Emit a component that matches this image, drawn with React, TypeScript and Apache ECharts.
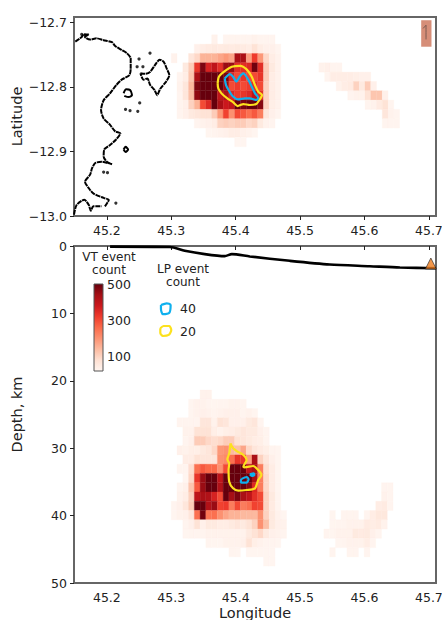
import React, { useEffect, useRef } from "react";
import * as echarts from "echarts";

const lonTicks = [45.2, 45.3, 45.4, 45.5, 45.6, 45.7];
const latTicks = [-13.0, -12.9, -12.8, -12.7];
const depthTicks = [0, 10, 20, 30, 40, 50];
const barTicks = [100, 200, 300, 400, 500];
const barLabels = [100, 300, 500];

// VT event counts, rows north to south, columns west to east
const mapRows: number[][] = [
  [0,0,0,0,0,0,0,25,0,20,20,20,20,20,25,20,20,20,0,0],
  [0,0,0,0,30,40,45,50,45,50,45,50,45,40,70,40,30,30,20,0],
  [25,0,0,60,90,150,150,150,170,190,170,430,430,180,320,190,90,40,25,0],
  [0,0,50,110,330,480,360,400,340,450,450,340,340,350,490,340,110,50,25,0],
  [0,20,40,120,430,500,500,500,500,480,350,300,330,300,300,330,110,40,25,0],
  [0,25,60,140,480,500,500,500,500,450,300,320,300,320,340,300,100,40,25,0],
  [0,20,60,130,460,500,500,500,400,430,350,320,330,350,400,340,100,40,25,0],
  [0,20,30,100,150,300,350,500,430,380,400,500,480,500,500,470,100,35,25,0],
  [0,20,30,50,60,70,70,110,190,310,200,300,280,250,280,230,60,30,20,0],
  [0,0,0,0,20,25,30,40,100,110,100,110,110,90,100,50,25,20,0,0],
  [0,0,0,0,0,0,15,20,25,30,40,40,30,25,15,0,0,0,0,0],
  [0,0,0,0,0,0,0,0,0,0,0,15,15,0,0,0,0,0,0,0],
];
const mapEastRows: number[][] = [
  [25,30,20,20,0,0,0,0,0,0,0,0,0,0],
  [0,20,40,40,40,40,35,30,30,0,0,0,0,0],
  [0,0,0,25,40,45,100,50,110,30,0,0,0,0],
  [0,0,0,0,0,20,25,25,70,120,120,30,0,0],
  [0,0,0,0,0,0,0,0,20,25,45,70,20,0],
  [0,0,0,0,0,0,0,0,0,0,0,60,25,20],
  [0,0,0,0,0,0,0,0,0,0,0,20,20,20],
];
const sectionRows: number[][] = [
  [0,0,0,0,0,25,25,0,0,0,0,0,0,0,0,0,0,0,0,0],
  [0,0,0,15,25,25,20,15,20,20,25,25,20,0,0,0,0,0,0,0],
  [0,0,0,15,25,30,25,20,25,30,30,30,20,25,15,0,0,0,0,0],
  [0,20,20,20,20,60,60,25,70,60,30,30,30,50,60,20,0,0,0,0],
  [0,0,25,25,70,70,70,35,25,35,40,50,60,50,50,30,20,0,0,0],
  [0,0,20,30,110,110,90,80,90,110,110,70,60,50,40,35,20,0,0,0],
  [0,30,25,35,35,50,60,90,190,200,140,130,170,90,60,45,35,20,15,0],
  [0,0,40,40,70,60,60,60,200,210,250,330,330,180,430,100,60,30,15,0],
  [0,20,20,80,250,280,260,260,200,300,500,500,500,400,430,230,80,40,15,0],
  [0,0,15,90,330,450,500,500,400,500,500,500,500,500,430,230,90,40,15,0],
  [0,20,30,120,280,450,500,500,420,500,500,500,500,470,350,230,90,40,15,0],
  [0,25,40,100,400,430,420,360,300,500,440,480,430,400,340,300,100,50,20,0],
  [20,30,60,110,500,500,420,450,310,320,230,300,230,250,310,300,100,45,20,0],
  [15,25,30,60,250,490,240,250,200,170,150,150,140,140,140,200,100,50,25,15],
  [0,0,20,30,70,30,50,50,40,40,50,60,50,70,100,200,130,50,30,25],
  [0,0,15,20,20,20,25,25,25,25,25,25,25,50,70,90,50,30,25,20],
  [0,0,0,0,0,0,20,15,15,25,25,25,30,70,35,25,20,20,15,0],
  [0,0,0,0,0,0,0,0,0,0,20,15,0,15,15,15,15,15,0,0],
  [0,0,0,0,0,0,0,0,0,0,0,0,0,0,0,0,15,15,0,0],
];
const sectionEastRows: number[][] = [
  [0,0,0,0,0,0,0,0,0,0,20,20],
  [0,0,0,0,0,0,0,0,0,0,25,20],
  [0,0,0,0,0,0,0,0,0,40,45,20],
  [0,15,0,20,20,20,0,20,40,55,55,0],
  [0,15,20,20,25,25,25,45,40,45,25,0],
  [20,15,25,25,25,50,45,50,30,20,0,0],
  [0,0,15,20,25,25,25,40,20,0,0,0],
  [0,20,0,0,20,20,0,20,0,0,0,0],
];

const coastNorth = [[45.151,-12.730],[45.161,-12.723],[45.164,-12.719],[45.172,-12.719],[45.166,-12.723],[45.174,-12.727],[45.184,-12.725],[45.195,-12.728],[45.208,-12.731],[45.213,-12.737],[45.223,-12.743],[45.231,-12.748],[45.237,-12.756],[45.237,-12.772],[45.235,-12.782],[45.223,-12.789],[45.215,-12.797],[45.205,-12.810],[45.195,-12.821],[45.191,-12.836],[45.195,-12.849],[45.205,-12.859],[45.213,-12.869],[45.221,-12.872],[45.214,-12.882],[45.205,-12.890],[45.196,-12.897],[45.195,-12.908],[45.200,-12.916],[45.208,-12.920],[45.192,-12.916],[45.182,-12.918],[45.177,-12.926],[45.174,-12.936],[45.166,-12.947],[45.172,-12.957],[45.179,-12.965],[45.195,-12.972],[45.203,-12.975],[45.197,-12.985]];
const coastSouth = [[45.149,-12.998],[45.153,-12.983],[45.165,-12.975],[45.172,-12.983],[45.175,-12.992],[45.179,-12.985],[45.192,-12.985]];
const islandA = [[45.252,-12.779],[45.259,-12.780],[45.267,-12.777],[45.275,-12.766],[45.282,-12.758],[45.288,-12.761],[45.293,-12.772],[45.297,-12.782],[45.292,-12.792],[45.283,-12.803],[45.278,-12.813],[45.274,-12.805],[45.267,-12.797],[45.263,-12.787],[45.257,-12.789],[45.252,-12.779]];
const islandB = [[45.226,-12.810],[45.230,-12.804],[45.236,-12.805],[45.239,-12.813],[45.234,-12.816],[45.227,-12.814]];
const islandC = [[45.226,-12.897],[45.229,-12.893],[45.233,-12.897],[45.229,-12.901],[45.226,-12.897]];
const islets = [[45.250,-12.757],[45.267,-12.748],[45.247,-12.769],[45.256,-12.769],[45.251,-12.825],[45.229,-12.835],[45.236,-12.837],[45.248,-12.838],[45.195,-12.932],[45.201,-12.933],[45.214,-12.980],[45.161,-12.719],[45.166,-12.720]];

const mapYellow = [[45.372,-12.7948],[45.374,-12.7845],[45.382,-12.7767],[45.394,-12.769],[45.407,-12.7675],[45.417,-12.773],[45.425,-12.7845],[45.430,-12.7973],[45.435,-12.8076],[45.441,-12.8128],[45.436,-12.8215],[45.432,-12.8267],[45.422,-12.8282],[45.412,-12.8267],[45.403,-12.8298],[45.395,-12.8231],[45.387,-12.818],[45.378,-12.8102],[45.373,-12.8025],[45.372,-12.7948]];
const mapBlue = [[45.383,-12.787],[45.391,-12.7803],[45.396,-12.7845],[45.401,-12.7922],[45.406,-12.7845],[45.412,-12.7793],[45.420,-12.7896],[45.425,-12.7999],[45.430,-12.8102],[45.435,-12.8169],[45.432,-12.8205],[45.422,-12.8179],[45.414,-12.8179],[45.404,-12.8195],[45.395,-12.8143],[45.389,-12.805],[45.385,-12.7973],[45.383,-12.787]];
const sectionYellow = [[45.392,29.28],[45.396,30.02],[45.403,30.51],[45.412,31.01],[45.417,31.75],[45.412,32.74],[45.414,32.84],[45.427,32.64],[45.435,33.23],[45.440,33.98],[45.435,34.72],[45.430,35.95],[45.417,36.2],[45.404,36.3],[45.396,35.95],[45.390,34.97],[45.389,33.23],[45.390,32.25],[45.387,31.65],[45.390,30.76],[45.392,29.28]];
const sectionBlueA = [[45.409,34.57],[45.417,34.27],[45.420,34.62],[45.417,35.11],[45.409,35.11],[45.408,34.82],[45.409,34.57]];
const sectionBlueB = [[45.422,33.88],[45.428,33.73],[45.429,33.98],[45.425,34.12],[45.422,33.88]];
const keyBlue = [[45.284,8.75],[45.293,8.5],[45.299,8.75],[45.297,9.9],[45.287,10.1],[45.284,9.35],[45.284,8.75]];
const keyYellow = [[45.283,12.2],[45.288,11.87],[45.297,11.87],[45.300,12.46],[45.296,13.2],[45.287,13.35],[45.283,12.9],[45.283,12.2]];
const topography = [[45.205,0.1],[45.298,0.15],[45.321,0.7],[45.352,1.2],[45.383,1.5],[45.394,1.2],[45.422,1.55],[45.484,2.2],[45.546,2.75],[45.608,3.0],[45.655,3.2],[45.711,3.3]];
const vent = [[45.703,2.6]];
const scaleBox = [[45.688,-12.697,45.704,-12.738]];
const scaleGlyph = [[45.691,-12.7097],[45.6955,-12.7046],[45.6955,-12.7267]];

const redStops = ["#fff5f0","#fee0d2","#fcbba1","#fc9272","#fb6a4a","#ef3b2c","#cb181d","#a50f15","#67000d"];
const BAR_MIN = 17, BAR_MAX = 500;

function hexRgb(h: string) {
  return [1, 3, 5].map((i) => parseInt(h.slice(i, i + 2), 16));
}
function reds(v: number) {
  const t = Math.min(1, Math.max(0, (v - BAR_MIN) / (BAR_MAX - BAR_MIN))) * (redStops.length - 1);
  const i = Math.min(redStops.length - 2, Math.floor(t));
  const a = hexRgb(redStops[i]), b = hexRgb(redStops[i + 1]);
  const f = t - i;
  return `rgb(${a.map((c, k) => Math.round(c + (b[k] - c) * f)).join(",")})`;
}

const CELL_LON = 0.00895;
const CELL_LAT = 0.01443;
const CELL_DEPTH = 1.375;
const LON0 = 45.3;
const EAST_MAP_X0 = 45.2 + (319 - 106.7) / 645;
const EAST_SEC_X0 = 45.2 + (324 - 106.7) / 645;
const LAT0 = -12.7196;
const DEPTH0 = 21.37;

function cells(rows: number[][], x0: number, y0: number, dy: number, rowShift = 0) {
  const out: number[][] = [];
  rows.forEach((row, r) =>
    row.forEach((v, c) => {
      if (v > 0) out.push([x0 + c * CELL_LON, y0 + (r + rowShift) * dy, v]);
    })
  );
  return out;
}

const heatSeries = (data: number[][], idx: number, dy: number) => ({
  type: "custom",
  xAxisIndex: idx,
  yAxisIndex: idx,
  z: 1,
  clip: true,
  silent: true,
  encode: { x: 0, y: 1 },
  data,
  renderItem: (_: any, api: any) => {
    const a = api.coord([api.value(0), api.value(1)]);
    const b = api.coord([api.value(0) + CELL_LON, api.value(1) + dy]);
    const fill = reds(api.value(2));
    return {
      type: "rect",
      shape: {
        x: Math.min(a[0], b[0]),
        y: Math.min(a[1], b[1]),
        width: Math.abs(b[0] - a[0]),
        height: Math.abs(b[1] - a[1]),
      },
      style: { fill, stroke: fill, lineWidth: 0.3 },
    };
  },
});

const lineSeries = (data: number[][], idx: number, color: string, width: number, extra: any = {}) => ({
  type: "line",
  xAxisIndex: idx,
  yAxisIndex: idx,
  data,
  z: 5,
  symbol: "none",
  smooth: 0.25,
  silent: true,
  lineStyle: { color, width, ...extra },
});

const FONT = "DejaVu Sans";
const TICK = "#222";
const xAxis = (grid: number, name: string) => ({
  type: "value",
  gridIndex: grid,
  min: 45.149,
  max: 45.711,
  name,
  nameLocation: "middle",
  nameGap: 22,
  nameMoveOverlap: false,
  nameTextStyle: { fontFamily: FONT, fontSize: 14.5, color: "#222" },
  axisLine: { show: false },
  axisTick: { show: true, length: 4, customValues: lonTicks, lineStyle: { color: TICK, width: 1 } },
  axisLabel: { fontFamily: FONT, fontSize: 12.5, color: "#222", margin: 8, customValues: lonTicks, formatter: (v: number) => v.toFixed(1) },
  splitLine: { show: false },
});

const txt = (x: number, y: number, text: string, align = "center", size = 12) => ({
  type: "text",
  x,
  y,
  z: 20,
  style: { text, x: 0, y: 0, fill: "#222", font: `${size}px "${FONT}"`, textAlign: align, textVerticalAlign: "middle", lineHeight: 13 },
});

export default function App() {
  const ref = useRef<HTMLDivElement>(null);
  useEffect(() => {
    document.body.style.margin = "0";
    const chart = echarts.init(ref.current!, undefined, { renderer: "svg" });
    chart.setOption({
      animation: false,
      backgroundColor: "#fff",
      grid: [
        { left: 74, top: 17, width: 362, height: 199, show: true, borderColor: "#666", borderWidth: 2, backgroundColor: "transparent", outerBoundsMode: "none" },
        { left: 74, top: 246, width: 362, height: 337, show: true, borderColor: "#666", borderWidth: 2, backgroundColor: "transparent", outerBoundsMode: "none" },
        { left: 94, top: 284, width: 9, height: 87, show: false, outerBoundsMode: "none" },
      ],
      xAxis: [
        xAxis(0, ""),
        xAxis(1, "Longitude"),
        { type: "value", gridIndex: 2, min: 0, max: 1, show: false },
      ],
      yAxis: [
        {
          type: "value", gridIndex: 0, min: -13.0, max: -12.692,
          name: "Latitude", nameLocation: "middle", nameGap: 50, nameRotate: 90, nameMoveOverlap: false,
          nameTextStyle: { fontFamily: FONT, fontSize: 14.5, color: "#222" },
          axisLine: { show: false },
          axisTick: { show: true, length: 4, customValues: latTicks, lineStyle: { color: TICK, width: 1 } },
          axisLabel: { fontFamily: FONT, fontSize: 12.5, color: "#222", margin: 7, customValues: latTicks, formatter: (v: number) => "\u2212" + Math.abs(v).toFixed(1) },
          splitLine: { show: false },
        },
        {
          type: "value", gridIndex: 1, min: 0, max: 50, inverse: true,
          name: "Depth, km", nameLocation: "middle", nameGap: 50, nameRotate: 90, nameMoveOverlap: false,
          nameTextStyle: { fontFamily: FONT, fontSize: 14.5, color: "#222" },
          axisLine: { show: false },
          axisTick: { show: true, length: 4, customValues: depthTicks, lineStyle: { color: TICK, width: 1 } },
          axisLabel: { fontFamily: FONT, fontSize: 12.5, color: "#222", margin: 7, customValues: depthTicks },
          splitLine: { show: false },
        },
        {
          type: "value", gridIndex: 2, min: BAR_MIN, max: BAR_MAX, position: "right",
          axisLine: { show: false },
          axisTick: { show: true, length: 3, inside: false, customValues: barTicks, lineStyle: { color: "#333", width: 1 } },
          axisLabel: { fontFamily: FONT, fontSize: 12.5, color: "#222", margin: 4, customValues: barLabels },
          splitLine: { show: false },
        },
      ],
      series: [
        heatSeries(cells(mapRows, LON0, LAT0, -CELL_LAT), 0, -CELL_LAT),
        heatSeries(cells(mapEastRows, EAST_MAP_X0, LAT0, -CELL_LAT, 3), 0, -CELL_LAT),
        heatSeries(cells(sectionRows, LON0, DEPTH0, CELL_DEPTH), 1, CELL_DEPTH),
        heatSeries(cells(sectionEastRows, EAST_SEC_X0, DEPTH0, CELL_DEPTH, 10), 1, CELL_DEPTH),
        {
          type: "custom", xAxisIndex: 0, yAxisIndex: 0, z: 3, silent: true, encode: { x: 0, y: 1 },
          data: scaleBox,
          renderItem: (_: any, api: any) => {
            const a = api.coord([api.value(0), api.value(1)]);
            const b = api.coord([api.value(2), api.value(3)]);
            return { type: "rect", shape: { x: a[0], y: a[1], width: b[0] - a[0], height: b[1] - a[1] }, style: { fill: "#d68e78" } };
          },
        },
        lineSeries(scaleGlyph, 0, "#7a5a50", 1, {}),
        lineSeries(coastNorth, 0, "#000", 2, { type: [5, 0.7] }),
        lineSeries(coastSouth, 0, "#000", 2, { type: [5, 0.7] }),
        lineSeries(islandA, 0, "#000", 2, { type: [5, 0.7] }),
        lineSeries(islandB, 0, "#000", 2),
        lineSeries(islandC, 0, "#000", 2),
        {
          type: "scatter", xAxisIndex: 0, yAxisIndex: 0, z: 5, silent: true, symbol: "circle", symbolSize: 3.2,
          itemStyle: { color: "#000" }, data: islets,
        },
        lineSeries(mapYellow, 0, "#fce11e", 2.2),
        lineSeries(mapBlue, 0, "#0fb0ee", 2.2),
        lineSeries(sectionYellow, 1, "#fce11e", 2.2),
        lineSeries(sectionBlueA, 1, "#0fb0ee", 2.2),
        lineSeries(sectionBlueB, 1, "#0fb0ee", 2.2),
        lineSeries(keyBlue, 1, "#0fb0ee", 2.2),
        lineSeries(keyYellow, 1, "#fce11e", 2.2),
        lineSeries(topography, 1, "#000", 2.6, {}),
        {
          type: "scatter", xAxisIndex: 1, yAxisIndex: 1, z: 6, silent: true, symbol: "triangle", symbolSize: 11,
          itemStyle: { color: "#ef7d1e", borderColor: "#222", borderWidth: 0.8 }, data: vent,
        },
        {
          type: "custom", xAxisIndex: 2, yAxisIndex: 2, z: 6, silent: true, encode: { x: 0, y: 1 },
          data: [[0, BAR_MIN, 1, BAR_MAX]],
          renderItem: (_: any, api: any) => {
            const a = api.coord([api.value(0), api.value(1)]);
            const b = api.coord([api.value(2), api.value(3)]);
            return {
              type: "rect",
              shape: { x: a[0], y: b[1], width: b[0] - a[0], height: a[1] - b[1] },
              style: {
                fill: new echarts.graphic.LinearGradient(0, 1, 0, 0, redStops.map((color, i) => ({ offset: i / (redStops.length - 1), color }))),
                stroke: "#555",
                lineWidth: 1,
              },
            };
          },
        },
      ],
      graphic: [
        txt(109, 257, "VT event"),
        txt(109, 269.5, "count"),
        txt(183, 268.5, "LP event"),
        txt(183, 281.5, "count"),
        txt(180, 308, "40", "left", 12.5),
        txt(180, 331, "20", "left", 12.5),
      ],
    });
    return () => chart.dispose();
  }, []);
  return <div ref={ref} style={{ width: 442, height: 620 }} />;
}
